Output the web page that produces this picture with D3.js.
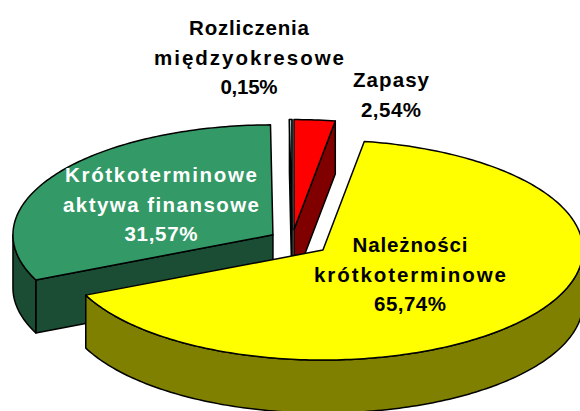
<!DOCTYPE html>
<html><head><meta charset="utf-8">
<script src="https://cdn.jsdelivr.net/npm/d3@7"></script>
<style>html,body{margin:0;padding:0;background:#fff;} svg{display:block;}</style>
</head><body><svg id="c" width="580" height="411"></svg>
<script>
// ---- data ----
const categories = ["Zapasy", "Należności krótkoterminowe", "Krótkoterminowe aktywa finansowe", "Rozliczenia międzyokresowe"];
const labelLines = [["Zapasy"], ["Należności", "krótkoterminowe"], ["Krótkoterminowe", "aktywa finansowe"], ["Rozliczenia", "międzyokresowe"]];
const values = [2.54, 65.74, 31.57, 0.15];
const valueLabels = ["2,54%", "65,74%", "31,57%", "0,15%"];
const topColors = ["#FF0000", "#FFFF00", "#339966", "#CCFFFF"];
const sideColors = ["#800000", "#808000", "#1B4D35", "#66A0A0"];
const textColors = ["#000000", "#000000", "#FFFFFF", "#000000"];

// ---- layout ----
const W = 580, H = 411;
const CX = 292, CY = 240, RX = 260, RY = 110, DEPTH = 53;
const explode = [0.095, 0.15, 0.087, 0.095];
const labelPos = [[391, 87], [410, 252], [161, 182], [249, 35]];
const lineGap = 29.5;
const lineWidths = [[76, 60], [115, 192, 72], [192, 196, 73], [120, 190, 57]];

const svg = d3.select("#c");
const pie = d3.pie().sort(null).startAngle(0).endAngle(2 * Math.PI);
const arcs = pie(values).map((d, i) => {
  const mid = (d.startAngle + d.endAngle) / 2;
  const cx = CX + RX * explode[i] * Math.sin(mid);
  const cy = CY - RY * explode[i] * Math.cos(mid);
  return Object.assign(d, { i, mid, cx, cy });
});

function pt(s, a, r, z) {
  return [s.cx + RX * r * Math.sin(a), s.cy - RY * r * Math.cos(a) + z];
}
function arcPts(s, a0, a1, z) {
  const n = Math.max(2, Math.ceil(Math.abs(a1 - a0) / (Math.PI / 180)));
  return d3.range(n + 1).map(k => pt(s, a0 + (a1 - a0) * k / n, 1, z));
}
const line = d3.line().curve(d3.curveLinear);

const order = arcs.slice().sort((a, b) => Math.cos(b.mid) - Math.cos(a.mid));
const g = svg.append("g")
  .attr("stroke", "#000").attr("stroke-width", 1.5).attr("stroke-linejoin", "round");

order.forEach(s => {
  const a0 = s.startAngle, a1 = s.endAngle;
  const faces = [];
  if (Math.cos(a0 - Math.PI / 2) < 0) faces.push(a0);
  if (Math.cos(a1 + Math.PI / 2) < 0) faces.push(a1);
  faces.forEach(a => {
    const p = [pt(s, 0, 0, 0), pt(s, a, 1, 0), pt(s, a, 1, DEPTH), pt(s, 0, 0, DEPTH)];
    g.append("path").attr("d", line(p) + "Z").attr("fill", sideColors[s.i]);
  });
  const r0 = Math.max(a0, Math.PI / 2), r1 = Math.min(a1, 3 * Math.PI / 2);
  if (r1 > r0) {
    const p = arcPts(s, r0, r1, 0).concat(arcPts(s, r1, r0, DEPTH));
    g.append("path").attr("d", line(p) + "Z").attr("fill", sideColors[s.i]);
  }
  const tp = [pt(s, 0, 0, 0)].concat(arcPts(s, a0, a1, 0));
  g.append("path").attr("d", line(tp) + "Z").attr("fill", topColors[s.i]);
});

// labels
const lg = svg.append("g")
  .attr("font-family", "'Liberation Sans', Arial, sans-serif")
  .attr("font-weight", "bold").attr("font-size", 20.5).attr("text-anchor", "middle");
arcs.forEach(s => {
  const lines = labelLines[s.i].concat([valueLabels[s.i]]);
  const [x, y] = labelPos[s.i];
  lines.forEach((t, k) => {
    lg.append("text")
      .attr("x", x).attr("y", y + k * lineGap)
      .attr("fill", textColors[s.i])
      .attr("textLength", lineWidths[s.i][k])
      .attr("lengthAdjust", "spacing")
      .text(t);
  });
});
</script>
</body></html>
